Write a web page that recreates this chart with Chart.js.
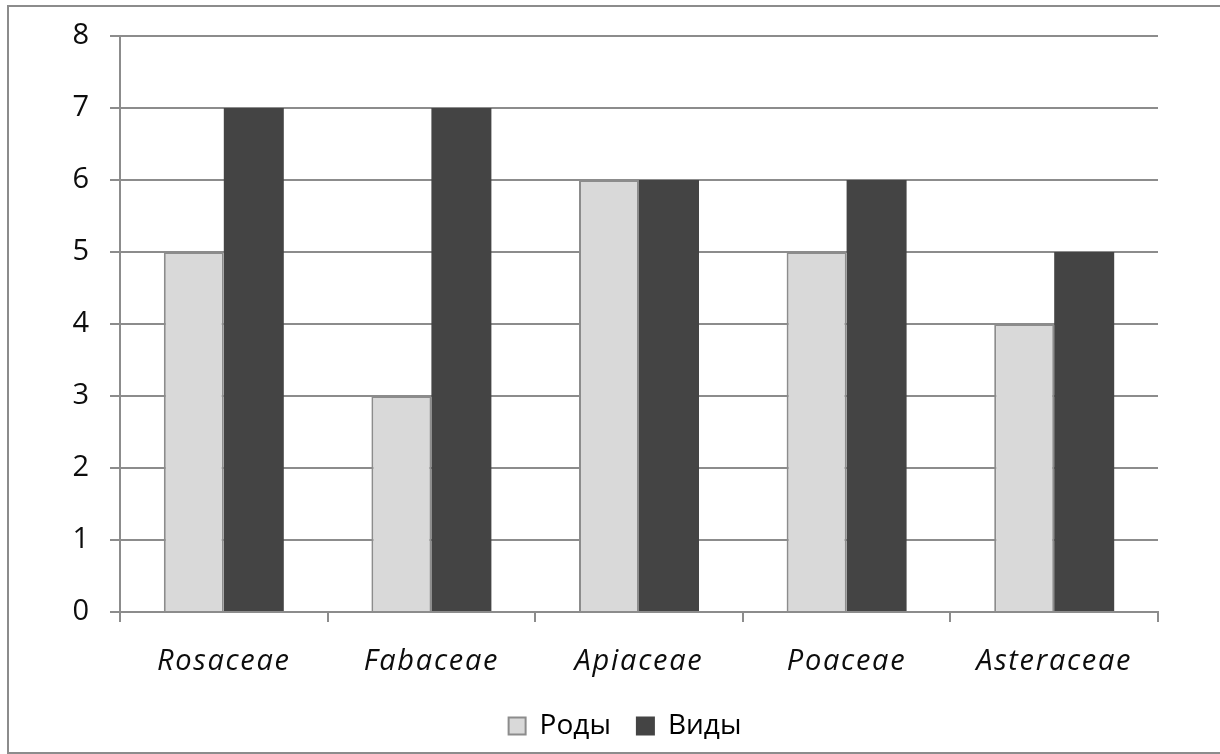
<!DOCTYPE html>
<html>
<head>
<meta charset="utf-8">
<script src="https://cdn.jsdelivr.net/npm/chart.js@4.4.1/dist/chart.umd.min.js"></script>
<style>
  html, body { margin: 0; padding: 0; background: #fff; overflow: hidden; }
  #wrap { position: relative; width: 1220px; height: 754px; overflow: hidden; }
  #frame { position: absolute; left: 7px; top: 5px; width: 1230px; height: 745px; border: 2px solid #8c8c8c; pointer-events: none; }
  canvas { position: absolute; left: 0; top: 0; }
</style>
</head>
<body>
<div id="wrap">
  <canvas id="chart" width="1220" height="754"></canvas>
  <div id="frame"></div>
</div>
<script>
// Families and counts of genera / species
const families = ['Rosaceae', 'Fabaceae', 'Apiaceae', 'Poaceae', 'Asteraceae'];
const genera = [5, 3, 6, 5, 4];
const species = [7, 7, 6, 6, 5];
const yTicks = [0, 1, 2, 3, 4, 5, 6, 7, 8];

const FONT = "'Open Sans', 'DejaVu Sans', sans-serif";
const LINE = '#8c8c8c';
const TEXT = '#0d0d0d';

// Slightly wider tracking for the family names under the x axis
const spacedCategoryLabels = {
  id: 'spacedCategoryLabels',
  beforeDraw(chart) {
    const s = chart.scales.x;
    if (s && !s.__spaced) {
      const orig = s.drawLabels.bind(s);
      s.drawLabels = (area) => {
        const ctx = chart.ctx;
        ctx.save();
        ctx.letterSpacing = '1.7px';
        orig(area);
        ctx.restore();
      };
      s.__spaced = true;
    }
  }
};

new Chart(document.getElementById('chart'), {
  type: 'bar',
  data: {
    labels: families,
    datasets: [
      {
        label: 'Роды',
        data: genera,
        backgroundColor: '#d9d9d9',
        borderColor: LINE,
        borderWidth: { left: 2, top: 2, right: 2, bottom: 0 },
        borderSkipped: 'bottom'
      },
      {
        label: 'Виды',
        data: species,
        backgroundColor: '#444444',
        borderWidth: 0
      }
    ]
  },
  plugins: [spacedCategoryLabels],
  options: {
    responsive: false,
    animation: false,
    layout: { padding: { left: 30, right: 0, top: 20, bottom: 4 } },
    datasets: { bar: { categoryPercentage: 0.578, barPercentage: 1.0 } },
    plugins: {
      tooltip: { enabled: false },
      legend: {
        position: 'bottom',
        labels: {
          color: TEXT,
          font: { family: FONT, size: 28 },
          boxWidth: 17,
          boxHeight: 17,
          padding: 26,
          generateLabels: (chart) => chart.data.datasets.map((ds, i) => ({
            text: ds.label,
            fillStyle: ds.backgroundColor,
            strokeStyle: i === 0 ? LINE : ds.backgroundColor,
            lineWidth: 2,
            datasetIndex: i,
            hidden: false
          }))
        }
      }
    },
    scales: {
      x: {
        offset: true,
        grid: { drawOnChartArea: false, drawTicks: true, tickLength: 10, color: LINE, lineWidth: 2, offset: true },
        border: { color: LINE, width: 2 },
        ticks: { color: TEXT, font: { family: FONT, size: 29, style: 'italic' }, padding: 22, maxRotation: 0 },
        afterFit: (s) => { s.height = 74; }
      },
      y: {
        min: 0,
        max: 8,
        afterBuildTicks: (s) => { s.ticks = yTicks.map(v => ({ value: v })); },
        grid: { color: LINE, lineWidth: 2, tickLength: 10 },
        border: { color: LINE, width: 2 },
        ticks: { color: TEXT, font: { family: FONT, size: 29, lineHeight: 1.03 }, padding: 21 },
        afterFit: (s) => { s.width = 90; }
      },
      gutter: {
        position: 'right',
        display: true,
        grid: { display: false, drawTicks: false },
        border: { display: false },
        ticks: { display: false },
        afterFit: (s) => { s.width = 62; }
      }
    }
  }
});
</script>
</body>
</html>
